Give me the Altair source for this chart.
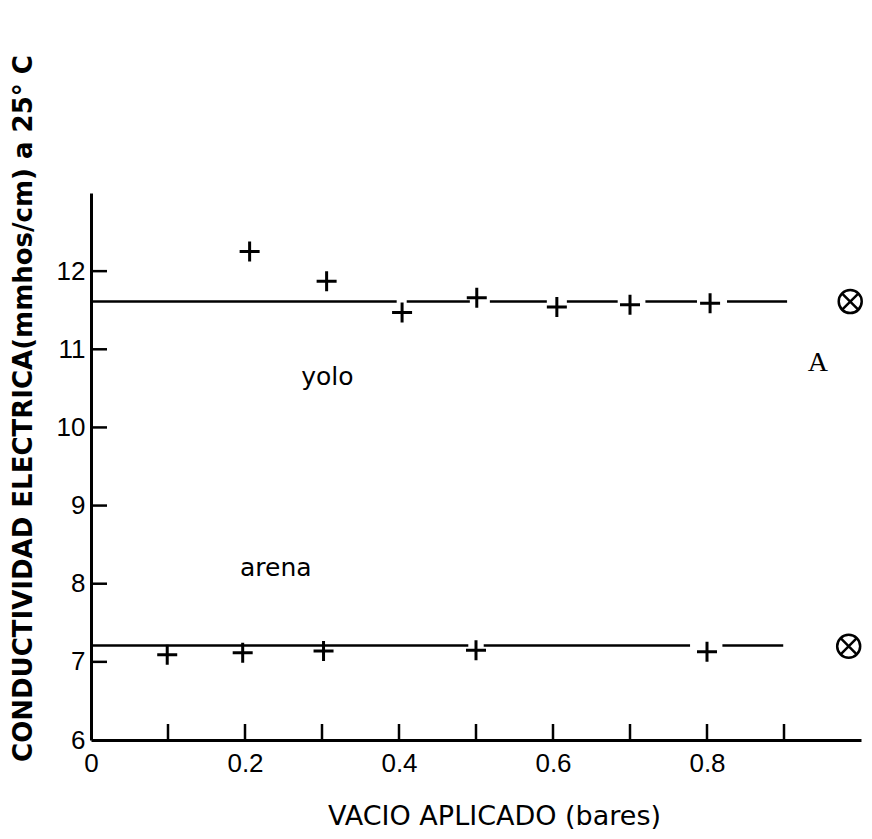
import altair as alt
import pandas as pd

# ---- data ----
x_yolo = [0.206, 0.306, 0.404, 0.501, 0.605, 0.700, 0.804]
ce_yolo = [12.25, 11.87, 11.47, 11.66, 11.54, 11.57, 11.59]
x_arena = [0.099, 0.197, 0.302, 0.500, 0.800]
ce_arena = [7.09, 7.115, 7.14, 7.15, 7.13]

fit_yolo = 11.61
fit_arena = 7.21
yolo_seg_start = [0.000, 0.410, 0.518, 0.618, 0.720, 0.826]
yolo_seg_end = [0.397, 0.492, 0.592, 0.684, 0.787, 0.904]
arena_seg_start = [0.000, 0.510, 0.820]
arena_seg_end = [0.490, 0.778, 0.899]

ref_x = [0.986, 0.984]
ref_ce = [11.61, 7.20]

soil_names = ["yolo", "arena"]
soil_x = [0.307, 0.24]
soil_ce = [10.65, 8.2]
panel_label = ["A"]
panel_x = [0.944]
panel_ce = [10.83]

x_tick_values = [0.1, 0.2, 0.3, 0.4, 0.5, 0.6, 0.7, 0.8, 0.9]
x_label_values = [0, 0.2, 0.4, 0.6, 0.8]
y_tick_values = [7, 8, 9, 10, 11, 12]
y_label_values = [6, 7, 8, 9, 10, 11, 12]

x_title = "VACIO   APLICADO   (bares)"
y_title = "CONDUCTIVIDAD   ELECTRICA(mmhos/cm)   a   25° C"

W, H = 770, 547
TICK = 16

xs = alt.Scale(domain=[0, 1], nice=False, zero=False)
ys = alt.Scale(domain=[6, 13], nice=False, zero=False)

x_axis = alt.Axis(
    values=x_label_values,
    labelExpr="datum.value == 0 ? '0' : format(datum.value, '.1f')",
    ticks=False, tickSize=0, grid=False,
    domain=True, domainColor="black", domainWidth=3,
    labelFont="Liberation Sans", labelFontSize=26, labelColor="black",
    labelPadding=10, labelFlush=False, labelOverlap=False,
    title=x_title, titleFont="DejaVu Sans", titleFontSize=27,
    titleFontWeight="normal", titleColor="black",
    titleX=403, titleY=76, titleAlign="center", titleBaseline="middle",
)
y_axis = alt.Axis(
    values=y_label_values, format="d",
    ticks=False, tickSize=0, grid=False,
    domain=True, domainColor="black", domainWidth=3,
    labelFont="Liberation Sans", labelFontSize=26, labelColor="black",
    labelPadding=6, labelFlush=False, labelOverlap=False,
    title=y_title, titleFont="DejaVu Sans", titleFontSize=26,
    titleFontWeight="bold", titleColor="black", titleAngle=270,
    titleX=-68, titleY=215, titleAlign="center", titleBaseline="middle",
)


def X(field):
    return alt.X(field, scale=xs, axis=x_axis)


def Y(field):
    return alt.Y(field, scale=ys, axis=y_axis)


plus_path = "M-1,0L1,0M0,-1L0,1"
x_path = "M-0.7,-0.7L0.7,0.7M-0.7,0.7L0.7,-0.7"

df_yolo = pd.DataFrame({"x": x_yolo, "ce": ce_yolo})
df_arena = pd.DataFrame({"x": x_arena, "ce": ce_arena})
df_points = pd.concat([df_yolo, df_arena], ignore_index=True)

pts = alt.Chart(df_points).mark_point(
    shape=plus_path, size=400, strokeWidth=3, color="black", filled=False, opacity=1
).encode(x=X("x:Q"), y=Y("ce:Q"))

df_seg = pd.DataFrame({
    "x": yolo_seg_start + arena_seg_start,
    "x2": yolo_seg_end + arena_seg_end,
    "ce": [fit_yolo] * len(yolo_seg_start) + [fit_arena] * len(arena_seg_start),
})
segs = alt.Chart(df_seg).mark_rule(color="black", strokeWidth=2.5).encode(
    x=X("x:Q"), x2="x2:Q", y=Y("ce:Q"),
)

df_ref = pd.DataFrame({"x": ref_x, "ce": ref_ce})
ref_circle = alt.Chart(df_ref).mark_point(
    shape="circle", size=529, strokeWidth=2.5, color="black", filled=False, opacity=1
).encode(x=X("x:Q"), y=Y("ce:Q"))
ref_cross = alt.Chart(df_ref).mark_point(
    shape=x_path, size=529, strokeWidth=2.5, color="black", filled=False, opacity=1
).encode(x=X("x:Q"), y=Y("ce:Q"))

df_xt = pd.DataFrame({"x": x_tick_values})
xticks = alt.Chart(df_xt).mark_rule(color="black", strokeWidth=2.5).encode(
    x=X("x:Q"), y=alt.value(H), y2=alt.value(H - TICK),
)
df_yt = pd.DataFrame({"ce": y_tick_values})
yticks = alt.Chart(df_yt).mark_rule(color="black", strokeWidth=2.5).encode(
    y=Y("ce:Q"), x=alt.value(0), x2=alt.value(TICK),
)

df_soil = pd.DataFrame({"x": soil_x, "ce": soil_ce, "t": soil_names})
soil_txt = alt.Chart(df_soil).mark_text(
    font="DejaVu Sans", fontSize=25, color="black", align="center", baseline="middle"
).encode(x=X("x:Q"), y=Y("ce:Q"), text="t:N")

df_panel = pd.DataFrame({"x": panel_x, "ce": panel_ce, "t": panel_label})
panel_txt = alt.Chart(df_panel).mark_text(
    font="Liberation Serif", fontSize=28, color="black", align="center", baseline="middle"
).encode(x=X("x:Q"), y=Y("ce:Q"), text="t:N")

chart = alt.layer(
    pts, segs, ref_circle, ref_cross, xticks, yticks, soil_txt, panel_txt
).properties(
    width=W, height=H,
    autosize=alt.AutoSizeParams(type="none"),
    padding={"left": 83, "top": 185, "right": 3, "bottom": 91},
    background="white",
).configure_view(stroke=None)

chart.save("out.html", embed_options={"renderer": "svg", "actions": False})
